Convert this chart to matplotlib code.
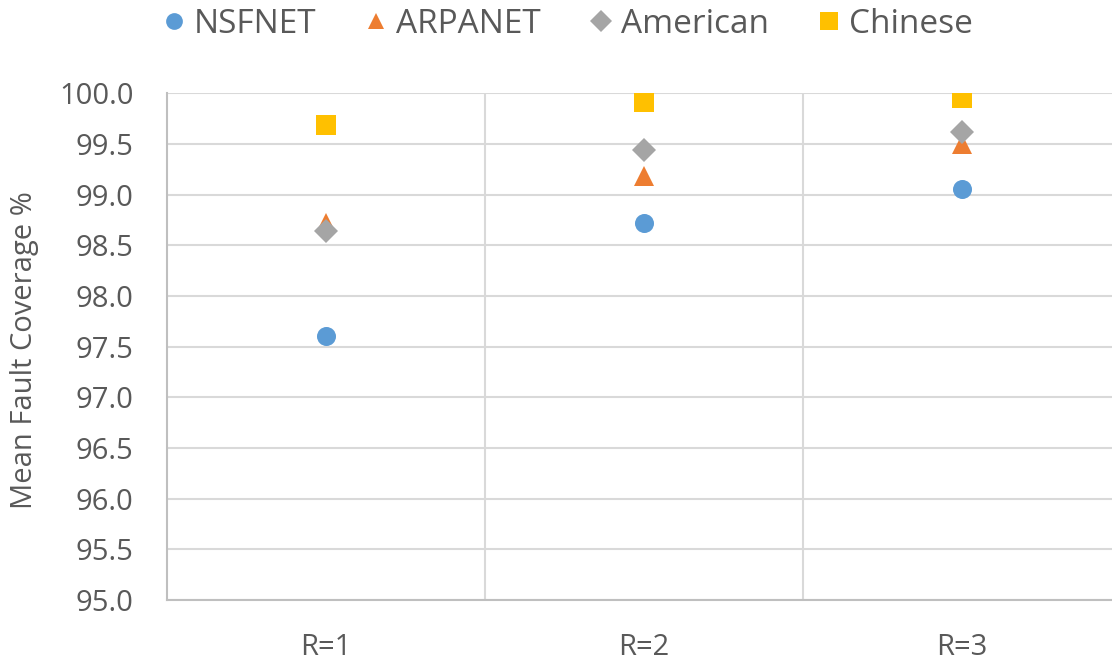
import matplotlib
matplotlib.use("Agg")
import matplotlib.pyplot as plt
from matplotlib.lines import Line2D

# Mean fault coverage (%) per redundancy level and topology
categories = ["R=1", "R=2", "R=3"]
nsfnet = [97.61, 98.72, 99.06]
arpanet = [98.72, 99.18, 99.50]
american = [98.64, 99.44, 99.62]
chinese = [99.69, 99.91, 99.95]

series_names = ["NSFNET", "ARPANET", "American", "Chinese"]
series_values = [nsfnet, arpanet, american, chinese]
colors = ["#5B9BD5", "#ED7D31", "#A5A5A5", "#FFC000"]
markers = ["o", "^", "D", "s"]
sizes = [13.7, 13.7, 12.7, 14.0]

text_color = "#595959"
plt.rcParams["font.family"] = ["Open Sans", "DejaVu Sans"]

fig = plt.figure(figsize=(11.12, 6.62), dpi=100)
ax = fig.add_axes([167 / 1112, 1 - 600 / 662, 954 / 1112, (600 - 93.3) / 662])

x = list(range(len(categories)))
for name, vals, c, m, s in zip(series_names, series_values, colors, markers, sizes):
    ax.plot(x, vals, linestyle="none", marker=m, markersize=s,
            color=c, markeredgewidth=0, label=name, zorder=3)

ax.set_xlim(-0.5, len(categories) - 0.5)
ax.set_ylim(95.0, 100.0)
ax.set_yticks([95.0 + 0.5 * i for i in range(11)])
ax.set_yticklabels([f"{95.0 + 0.5 * i:.1f}" for i in range(11)])
ax.set_xticks(x)
ax.set_xticklabels(categories)

# Category separators as vertical gridlines
ax.set_xticks([i + 0.5 for i in range(len(categories))], minor=True)
ax.grid(True, which="minor", axis="x", color="#D9D9D9", linewidth=1.5)
ax.grid(True, which="major", axis="y", color="#D9D9D9", linewidth=1.5)
ax.set_axisbelow(True)

ax.tick_params(axis="both", which="both", length=0, colors=text_color, labelsize=21)
ax.tick_params(axis="y", pad=24)
ax.tick_params(axis="x", pad=24)

for side in ("top", "right"):
    ax.spines[side].set_visible(False)
for side in ("left", "bottom"):
    ax.spines[side].set_color("#BFBFBF")
    ax.spines[side].set_linewidth(1.5)

fig.text(25 / 1112, 1 - 350 / 662, "Mean Fault Coverage %", rotation=90,
         ha="center", va="center", fontsize=21, color=text_color)

handles = [Line2D([], [], linestyle="none", marker=m, color=c,
                  markersize=s * 0.88, markeredgewidth=0)
           for c, m, s in zip(colors, markers, sizes)]
fig.legend(handles, series_names, loc="upper center", ncol=4,
           bbox_to_anchor=(0.511, 1.033), frameon=False, fontsize=24,
           labelcolor=text_color, handlelength=0.6, handletextpad=0.3,
           columnspacing=1.5)

fig.savefig("out.png", dpi=100)
